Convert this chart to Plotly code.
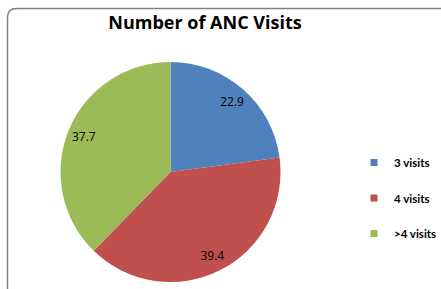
import plotly.graph_objects as go

title = "Number of ANC Visits"
categories = ["3 visits", "4 visits", ">4 visits"]
values = [22.9, 39.4, 37.7]
colors = ["#4F81BD", "#C0504D", "#9BBB59"]

W, H = 441, 289
cx, cy, r = 170.5, 172, 110
dom_x = [(cx - r) / W, (cx + r) / W]
dom_y = [1 - (cy + r) / H, 1 - (cy - r) / H]

fig = go.Figure()
# colored pie
fig.add_trace(go.Pie(
    labels=categories, values=values, sort=False, direction="clockwise", rotation=0,
    marker=dict(colors=colors, line=dict(width=0)), textinfo="none",
    domain=dict(x=dom_x, y=dom_y), showlegend=False, hoverinfo="label+value",
))
# text ring overlay to place labels near the rim
fig.add_trace(go.Pie(
    labels=categories, values=values, sort=False, direction="clockwise", rotation=0,
    hole=0.7, marker=dict(colors=["rgba(0,0,0,0)"] * 3, line=dict(width=0)),
    texttemplate="%{value}", textposition="inside", insidetextorientation="horizontal",
    textfont=dict(family="Open Sans, Liberation Sans, sans-serif", size=12, color="#000000"),
    domain=dict(x=dom_x, y=dom_y), showlegend=False, hoverinfo="skip",
))
# legend entries
for i, (c, col) in enumerate(zip(categories, colors)):
    fig.add_trace(go.Scatter(
        x=[None], y=[None], mode="markers", name=c, legendgroup=f"g{i}",
        marker=dict(symbol="square", size=7, color=col),
    ))

# rounded border
x0, y0, x1, y1, rr = 7.5, 8.5, 452, 300, 9
def px(x): return x / W
def py(y): return 1 - y / H
path = (f"M {px(x0+rr)},{py(y0)} L {px(x1-rr)},{py(y0)} "
        f"Q {px(x1)},{py(y0)} {px(x1)},{py(y0+rr)} L {px(x1)},{py(y1-rr)} "
        f"Q {px(x1)},{py(y1)} {px(x1-rr)},{py(y1)} L {px(x0+rr)},{py(y1)} "
        f"Q {px(x0)},{py(y1)} {px(x0)},{py(y1-rr)} L {px(x0)},{py(y0+rr)} "
        f"Q {px(x0)},{py(y0)} {px(x0+rr)},{py(y0)} Z")

fig.update_layout(
    width=W, height=H, margin=dict(l=0, r=0, t=0, b=0, autoexpand=False),
    paper_bgcolor="white", plot_bgcolor="white",
    title=dict(text="<b>" + title + "</b>", x=205 / W, xanchor="center", y=1 - 23 / H, yanchor="middle",
               font=dict(family="Open Sans, Liberation Sans, sans-serif", size=18, color="#000000")),
    xaxis=dict(visible=False), yaxis=dict(visible=False),
    legend=dict(x=354 / W, xanchor="left", y=1 - 148 / H, yanchor="top",
                font=dict(family="Lato, Open Sans, sans-serif", size=11.5, color="#000000", weight="bold"),
                tracegroupgap=16.5, itemwidth=30, bgcolor="rgba(0,0,0,0)"),
    shapes=[dict(type="path", path=path, xref="paper", yref="paper",
                 line=dict(color="#7F7F7F", width=1.5), layer="below")],
)

fig.write_html("out.html", config={"displayModeBar": False},
               post_script="document.body.style.margin='0';document.body.style.overflow='hidden';")
